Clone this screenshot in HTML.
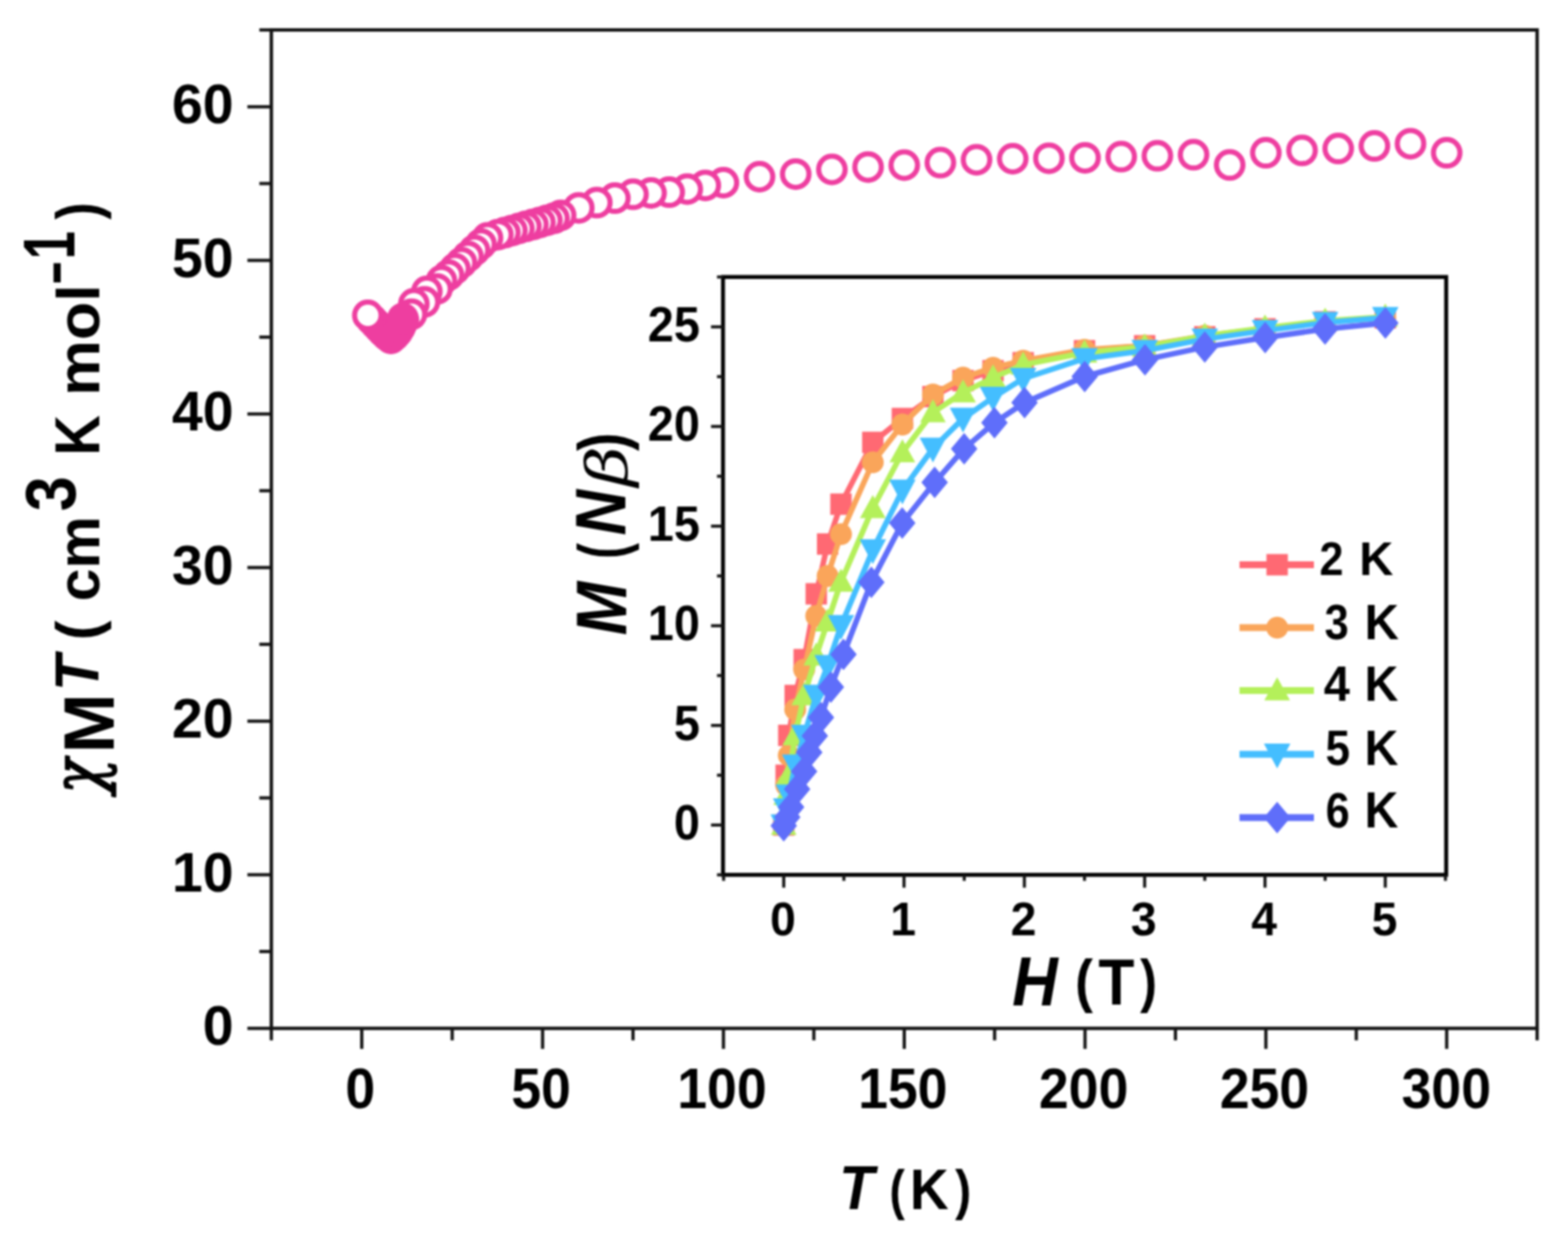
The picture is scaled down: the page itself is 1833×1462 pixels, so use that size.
<!DOCTYPE html>
<html><head><meta charset="utf-8"><title>chiMT plot</title>
<style>html,body{margin:0;padding:0;background:#fff;overflow:hidden}svg{display:block;filter:blur(0.9px)}</style>
</head><body>
<svg width="1833" height="1462" viewBox="0 0 1833 1462" fill="#000"><rect x="317.2" y="35.0" width="1479.7" height="1166.8" fill="none" stroke="#141414" stroke-width="4"/>
<line x1="289.2" y1="1201.8" x2="317.2" y2="1201.8" stroke="#141414" stroke-width="3.8"/>
<line x1="303.2" y1="1112.0" x2="317.2" y2="1112.0" stroke="#141414" stroke-width="3.8"/>
<line x1="289.2" y1="1022.3" x2="317.2" y2="1022.3" stroke="#141414" stroke-width="3.8"/>
<line x1="303.2" y1="932.5" x2="317.2" y2="932.5" stroke="#141414" stroke-width="3.8"/>
<line x1="289.2" y1="842.8" x2="317.2" y2="842.8" stroke="#141414" stroke-width="3.8"/>
<line x1="303.2" y1="753.0" x2="317.2" y2="753.0" stroke="#141414" stroke-width="3.8"/>
<line x1="289.2" y1="663.3" x2="317.2" y2="663.3" stroke="#141414" stroke-width="3.8"/>
<line x1="303.2" y1="573.5" x2="317.2" y2="573.5" stroke="#141414" stroke-width="3.8"/>
<line x1="289.2" y1="483.8" x2="317.2" y2="483.8" stroke="#141414" stroke-width="3.8"/>
<line x1="303.2" y1="394.0" x2="317.2" y2="394.0" stroke="#141414" stroke-width="3.8"/>
<line x1="289.2" y1="304.3" x2="317.2" y2="304.3" stroke="#141414" stroke-width="3.8"/>
<line x1="303.2" y1="214.5" x2="317.2" y2="214.5" stroke="#141414" stroke-width="3.8"/>
<line x1="289.2" y1="124.8" x2="317.2" y2="124.8" stroke="#141414" stroke-width="3.8"/>
<line x1="303.2" y1="35.0" x2="317.2" y2="35.0" stroke="#141414" stroke-width="3.8"/>
<line x1="317.2" y1="1201.8" x2="317.2" y2="1215.8" stroke="#141414" stroke-width="3.8"/>
<line x1="422.9" y1="1201.8" x2="422.9" y2="1225.8" stroke="#141414" stroke-width="3.8"/>
<line x1="528.6" y1="1201.8" x2="528.6" y2="1215.8" stroke="#141414" stroke-width="3.8"/>
<line x1="634.3" y1="1201.8" x2="634.3" y2="1225.8" stroke="#141414" stroke-width="3.8"/>
<line x1="740.0" y1="1201.8" x2="740.0" y2="1215.8" stroke="#141414" stroke-width="3.8"/>
<line x1="845.7" y1="1201.8" x2="845.7" y2="1225.8" stroke="#141414" stroke-width="3.8"/>
<line x1="951.4" y1="1201.8" x2="951.4" y2="1215.8" stroke="#141414" stroke-width="3.8"/>
<line x1="1057.1" y1="1201.8" x2="1057.1" y2="1225.8" stroke="#141414" stroke-width="3.8"/>
<line x1="1162.7" y1="1201.8" x2="1162.7" y2="1215.8" stroke="#141414" stroke-width="3.8"/>
<line x1="1268.4" y1="1201.8" x2="1268.4" y2="1225.8" stroke="#141414" stroke-width="3.8"/>
<line x1="1374.1" y1="1201.8" x2="1374.1" y2="1215.8" stroke="#141414" stroke-width="3.8"/>
<line x1="1479.8" y1="1201.8" x2="1479.8" y2="1225.8" stroke="#141414" stroke-width="3.8"/>
<line x1="1585.5" y1="1201.8" x2="1585.5" y2="1215.8" stroke="#141414" stroke-width="3.8"/>
<line x1="1691.2" y1="1201.8" x2="1691.2" y2="1225.8" stroke="#141414" stroke-width="3.8"/>
<line x1="1796.9" y1="1201.8" x2="1796.9" y2="1215.8" stroke="#141414" stroke-width="3.8"/>
<text transform="translate(273.06 1221.39) scale(1.0137 1)" font-family="&#39;Liberation Sans&#39;, Arial, sans-serif" font-size="63.94" font-weight="bold" text-anchor="end">0</text>
<text transform="translate(273.06 1041.89) scale(1.0137 1)" font-family="&#39;Liberation Sans&#39;, Arial, sans-serif" font-size="63.94" font-weight="bold" text-anchor="end">10</text>
<text transform="translate(273.06 862.39) scale(1.0137 1)" font-family="&#39;Liberation Sans&#39;, Arial, sans-serif" font-size="63.94" font-weight="bold" text-anchor="end">20</text>
<text transform="translate(273.06 682.89) scale(1.0137 1)" font-family="&#39;Liberation Sans&#39;, Arial, sans-serif" font-size="63.94" font-weight="bold" text-anchor="end">30</text>
<text transform="translate(273.06 503.39) scale(1.0137 1)" font-family="&#39;Liberation Sans&#39;, Arial, sans-serif" font-size="63.94" font-weight="bold" text-anchor="end">40</text>
<text transform="translate(273.06 323.89) scale(1.0137 1)" font-family="&#39;Liberation Sans&#39;, Arial, sans-serif" font-size="63.94" font-weight="bold" text-anchor="end">50</text>
<text transform="translate(273.06 144.39) scale(1.0137 1)" font-family="&#39;Liberation Sans&#39;, Arial, sans-serif" font-size="63.94" font-weight="bold" text-anchor="end">60</text>
<text transform="translate(421.22 1294.98) scale(0.9406 1)" font-family="&#39;Liberation Sans&#39;, Arial, sans-serif" font-size="66.60" font-weight="bold" text-anchor="middle">0</text>
<text transform="translate(632.61 1294.98) scale(0.9406 1)" font-family="&#39;Liberation Sans&#39;, Arial, sans-serif" font-size="66.60" font-weight="bold" text-anchor="middle">50</text>
<text transform="translate(843.99 1294.98) scale(0.9406 1)" font-family="&#39;Liberation Sans&#39;, Arial, sans-serif" font-size="66.60" font-weight="bold" text-anchor="middle">100</text>
<text transform="translate(1055.38 1294.98) scale(0.9406 1)" font-family="&#39;Liberation Sans&#39;, Arial, sans-serif" font-size="66.60" font-weight="bold" text-anchor="middle">150</text>
<text transform="translate(1266.76 1294.98) scale(0.9406 1)" font-family="&#39;Liberation Sans&#39;, Arial, sans-serif" font-size="66.60" font-weight="bold" text-anchor="middle">200</text>
<text transform="translate(1478.15 1294.98) scale(0.9406 1)" font-family="&#39;Liberation Sans&#39;, Arial, sans-serif" font-size="66.60" font-weight="bold" text-anchor="middle">250</text>
<text transform="translate(1690.73 1294.98) scale(0.9406 1)" font-family="&#39;Liberation Sans&#39;, Arial, sans-serif" font-size="66.60" font-weight="bold" text-anchor="middle">300</text>
<circle cx="1691.2" cy="178.6" r="15.5" fill="#fff" stroke="#EE3EA0" stroke-width="6"/>
<circle cx="1648.9" cy="167.9" r="15.5" fill="#fff" stroke="#EE3EA0" stroke-width="6"/>
<circle cx="1606.7" cy="170.6" r="15.5" fill="#fff" stroke="#EE3EA0" stroke-width="6"/>
<circle cx="1564.4" cy="173.6" r="15.5" fill="#fff" stroke="#EE3EA0" stroke-width="6"/>
<circle cx="1522.1" cy="175.8" r="15.5" fill="#fff" stroke="#EE3EA0" stroke-width="6"/>
<circle cx="1479.8" cy="178.6" r="15.5" fill="#fff" stroke="#EE3EA0" stroke-width="6"/>
<circle cx="1437.5" cy="192.8" r="15.5" fill="#fff" stroke="#EE3EA0" stroke-width="6"/>
<circle cx="1395.3" cy="180.8" r="15.5" fill="#fff" stroke="#EE3EA0" stroke-width="6"/>
<circle cx="1353.0" cy="182.1" r="15.5" fill="#fff" stroke="#EE3EA0" stroke-width="6"/>
<circle cx="1310.7" cy="183.1" r="15.5" fill="#fff" stroke="#EE3EA0" stroke-width="6"/>
<circle cx="1268.4" cy="184.4" r="15.5" fill="#fff" stroke="#EE3EA0" stroke-width="6"/>
<circle cx="1226.2" cy="184.9" r="15.5" fill="#fff" stroke="#EE3EA0" stroke-width="6"/>
<circle cx="1183.9" cy="185.5" r="15.5" fill="#fff" stroke="#EE3EA0" stroke-width="6"/>
<circle cx="1141.6" cy="186.7" r="15.5" fill="#fff" stroke="#EE3EA0" stroke-width="6"/>
<circle cx="1099.3" cy="190.1" r="15.5" fill="#fff" stroke="#EE3EA0" stroke-width="6"/>
<circle cx="1057.1" cy="193.0" r="15.5" fill="#fff" stroke="#EE3EA0" stroke-width="6"/>
<circle cx="1014.8" cy="195.2" r="15.5" fill="#fff" stroke="#EE3EA0" stroke-width="6"/>
<circle cx="972.5" cy="198.0" r="15.5" fill="#fff" stroke="#EE3EA0" stroke-width="6"/>
<circle cx="930.2" cy="203.4" r="15.5" fill="#fff" stroke="#EE3EA0" stroke-width="6"/>
<circle cx="887.9" cy="206.5" r="15.5" fill="#fff" stroke="#EE3EA0" stroke-width="6"/>
<circle cx="845.7" cy="213.5" r="15.5" fill="#fff" stroke="#EE3EA0" stroke-width="6"/>
<circle cx="824.5" cy="216.7" r="15.5" fill="#fff" stroke="#EE3EA0" stroke-width="6"/>
<circle cx="803.4" cy="221.0" r="15.5" fill="#fff" stroke="#EE3EA0" stroke-width="6"/>
<circle cx="782.3" cy="224.6" r="15.5" fill="#fff" stroke="#EE3EA0" stroke-width="6"/>
<circle cx="761.1" cy="225.5" r="15.5" fill="#fff" stroke="#EE3EA0" stroke-width="6"/>
<circle cx="740.0" cy="227.1" r="15.5" fill="#fff" stroke="#EE3EA0" stroke-width="6"/>
<circle cx="718.8" cy="231.6" r="15.5" fill="#fff" stroke="#EE3EA0" stroke-width="6"/>
<circle cx="697.7" cy="236.8" r="15.5" fill="#fff" stroke="#EE3EA0" stroke-width="6"/>
<circle cx="676.6" cy="242.9" r="15.5" fill="#fff" stroke="#EE3EA0" stroke-width="6"/>
<circle cx="655.4" cy="251.7" r="15.5" fill="#fff" stroke="#EE3EA0" stroke-width="6"/>
<circle cx="647.6" cy="255.1" r="15.5" fill="#fff" stroke="#EE3EA0" stroke-width="6"/>
<circle cx="639.4" cy="257.5" r="15.5" fill="#fff" stroke="#EE3EA0" stroke-width="6"/>
<circle cx="631.2" cy="259.9" r="15.5" fill="#fff" stroke="#EE3EA0" stroke-width="6"/>
<circle cx="623.0" cy="262.3" r="15.5" fill="#fff" stroke="#EE3EA0" stroke-width="6"/>
<circle cx="614.8" cy="264.6" r="15.5" fill="#fff" stroke="#EE3EA0" stroke-width="6"/>
<circle cx="606.6" cy="267.0" r="15.5" fill="#fff" stroke="#EE3EA0" stroke-width="6"/>
<circle cx="598.4" cy="269.4" r="15.5" fill="#fff" stroke="#EE3EA0" stroke-width="6"/>
<circle cx="590.2" cy="271.8" r="15.5" fill="#fff" stroke="#EE3EA0" stroke-width="6"/>
<circle cx="582.0" cy="274.2" r="15.5" fill="#fff" stroke="#EE3EA0" stroke-width="6"/>
<circle cx="569.9" cy="278.0" r="15.5" fill="#fff" stroke="#EE3EA0" stroke-width="6"/>
<circle cx="562.3" cy="285.2" r="15.5" fill="#fff" stroke="#EE3EA0" stroke-width="6"/>
<circle cx="554.7" cy="292.4" r="15.5" fill="#fff" stroke="#EE3EA0" stroke-width="6"/>
<circle cx="547.1" cy="299.7" r="15.5" fill="#fff" stroke="#EE3EA0" stroke-width="6"/>
<circle cx="539.5" cy="306.9" r="15.5" fill="#fff" stroke="#EE3EA0" stroke-width="6"/>
<circle cx="531.9" cy="314.1" r="15.5" fill="#fff" stroke="#EE3EA0" stroke-width="6"/>
<circle cx="524.3" cy="321.4" r="15.5" fill="#fff" stroke="#EE3EA0" stroke-width="6"/>
<circle cx="516.1" cy="328.0" r="15.5" fill="#fff" stroke="#EE3EA0" stroke-width="6"/>
<circle cx="510.8" cy="337.7" r="15.5" fill="#fff" stroke="#EE3EA0" stroke-width="6"/>
<circle cx="499.0" cy="340.5" r="15.5" fill="#fff" stroke="#EE3EA0" stroke-width="6"/>
<circle cx="496.2" cy="352.8" r="15.5" fill="#fff" stroke="#EE3EA0" stroke-width="6"/>
<circle cx="483.8" cy="355.0" r="15.5" fill="#fff" stroke="#EE3EA0" stroke-width="6"/>
<circle cx="481.0" cy="367.3" r="15.5" fill="#fff" stroke="#EE3EA0" stroke-width="6"/>
<circle cx="434.5" cy="373.3" r="18.5" fill="#EE3EA0"/>
<circle cx="439.0" cy="378.1" r="18.5" fill="#EE3EA0"/>
<circle cx="443.5" cy="382.9" r="18.5" fill="#EE3EA0"/>
<circle cx="448.0" cy="387.7" r="18.5" fill="#EE3EA0"/>
<circle cx="452.5" cy="392.0" r="18.5" fill="#EE3EA0"/>
<circle cx="457.0" cy="395.5" r="18.5" fill="#EE3EA0"/>
<circle cx="461.0" cy="392.0" r="18.5" fill="#EE3EA0"/>
<circle cx="464.5" cy="388.0" r="18.5" fill="#EE3EA0"/>
<circle cx="467.5" cy="383.0" r="18.5" fill="#EE3EA0"/>
<circle cx="470.0" cy="377.5" r="18.5" fill="#EE3EA0"/>
<circle cx="471.5" cy="373.5" r="18.5" fill="#EE3EA0"/>
<circle cx="471.0" cy="372.0" r="18.5" fill="#EE3EA0"/>
<circle cx="430.0" cy="368.5" r="15.5" fill="#fff" stroke="#EE3EA0" stroke-width="6"/>
<rect x="845.2" y="323.7" width="845.4" height="698.7" fill="#fff" stroke="#000" stroke-width="4.6"/>
<line x1="838.2" y1="1022.4" x2="845.2" y2="1022.4" stroke="#141414" stroke-width="3.6"/>
<line x1="831.2" y1="964.2" x2="845.2" y2="964.2" stroke="#141414" stroke-width="3.6"/>
<line x1="838.2" y1="906.0" x2="845.2" y2="906.0" stroke="#141414" stroke-width="3.6"/>
<line x1="831.2" y1="847.8" x2="845.2" y2="847.8" stroke="#141414" stroke-width="3.6"/>
<line x1="838.2" y1="789.5" x2="845.2" y2="789.5" stroke="#141414" stroke-width="3.6"/>
<line x1="831.2" y1="731.3" x2="845.2" y2="731.3" stroke="#141414" stroke-width="3.6"/>
<line x1="838.2" y1="673.1" x2="845.2" y2="673.1" stroke="#141414" stroke-width="3.6"/>
<line x1="831.2" y1="614.9" x2="845.2" y2="614.9" stroke="#141414" stroke-width="3.6"/>
<line x1="838.2" y1="556.6" x2="845.2" y2="556.6" stroke="#141414" stroke-width="3.6"/>
<line x1="831.2" y1="498.4" x2="845.2" y2="498.4" stroke="#141414" stroke-width="3.6"/>
<line x1="838.2" y1="440.2" x2="845.2" y2="440.2" stroke="#141414" stroke-width="3.6"/>
<line x1="831.2" y1="382.0" x2="845.2" y2="382.0" stroke="#141414" stroke-width="3.6"/>
<line x1="838.2" y1="323.7" x2="845.2" y2="323.7" stroke="#141414" stroke-width="3.6"/>
<line x1="845.9" y1="1022.4" x2="845.9" y2="1029.4" stroke="#141414" stroke-width="3.6"/>
<line x1="916.2" y1="1022.4" x2="916.2" y2="1037.4" stroke="#141414" stroke-width="3.6"/>
<line x1="986.5" y1="1022.4" x2="986.5" y2="1029.4" stroke="#141414" stroke-width="3.6"/>
<line x1="1056.8" y1="1022.4" x2="1056.8" y2="1037.4" stroke="#141414" stroke-width="3.6"/>
<line x1="1127.2" y1="1022.4" x2="1127.2" y2="1029.4" stroke="#141414" stroke-width="3.6"/>
<line x1="1197.5" y1="1022.4" x2="1197.5" y2="1037.4" stroke="#141414" stroke-width="3.6"/>
<line x1="1267.8" y1="1022.4" x2="1267.8" y2="1029.4" stroke="#141414" stroke-width="3.6"/>
<line x1="1338.1" y1="1022.4" x2="1338.1" y2="1037.4" stroke="#141414" stroke-width="3.6"/>
<line x1="1408.4" y1="1022.4" x2="1408.4" y2="1029.4" stroke="#141414" stroke-width="3.6"/>
<line x1="1478.8" y1="1022.4" x2="1478.8" y2="1037.4" stroke="#141414" stroke-width="3.6"/>
<line x1="1549.1" y1="1022.4" x2="1549.1" y2="1029.4" stroke="#141414" stroke-width="3.6"/>
<line x1="1619.4" y1="1022.4" x2="1619.4" y2="1037.4" stroke="#141414" stroke-width="3.6"/>
<line x1="1689.7" y1="1022.4" x2="1689.7" y2="1029.4" stroke="#141414" stroke-width="3.6"/>
<text transform="translate(818.24 980.97) scale(0.9410 1)" font-family="&#39;Liberation Sans&#39;, Arial, sans-serif" font-size="58.23" font-weight="bold" text-anchor="end">0</text>
<text transform="translate(818.24 864.52) scale(0.9410 1)" font-family="&#39;Liberation Sans&#39;, Arial, sans-serif" font-size="58.23" font-weight="bold" text-anchor="end">5</text>
<text transform="translate(818.24 748.07) scale(0.9410 1)" font-family="&#39;Liberation Sans&#39;, Arial, sans-serif" font-size="58.23" font-weight="bold" text-anchor="end">10</text>
<text transform="translate(818.24 631.62) scale(0.9410 1)" font-family="&#39;Liberation Sans&#39;, Arial, sans-serif" font-size="58.23" font-weight="bold" text-anchor="end">15</text>
<text transform="translate(818.24 515.17) scale(0.9410 1)" font-family="&#39;Liberation Sans&#39;, Arial, sans-serif" font-size="58.23" font-weight="bold" text-anchor="end">20</text>
<text transform="translate(818.24 398.72) scale(0.9410 1)" font-family="&#39;Liberation Sans&#39;, Arial, sans-serif" font-size="58.23" font-weight="bold" text-anchor="end">25</text>
<text transform="translate(915.23 1093.18) scale(0.9903 1)" font-family="&#39;Liberation Sans&#39;, Arial, sans-serif" font-size="54.61" font-weight="bold" text-anchor="middle">0</text>
<text transform="translate(1055.87 1093.18) scale(0.9903 1)" font-family="&#39;Liberation Sans&#39;, Arial, sans-serif" font-size="54.61" font-weight="bold" text-anchor="middle">1</text>
<text transform="translate(1196.51 1093.18) scale(0.9903 1)" font-family="&#39;Liberation Sans&#39;, Arial, sans-serif" font-size="54.61" font-weight="bold" text-anchor="middle">2</text>
<text transform="translate(1337.15 1093.18) scale(0.9903 1)" font-family="&#39;Liberation Sans&#39;, Arial, sans-serif" font-size="54.61" font-weight="bold" text-anchor="middle">3</text>
<text transform="translate(1477.79 1093.18) scale(0.9903 1)" font-family="&#39;Liberation Sans&#39;, Arial, sans-serif" font-size="54.61" font-weight="bold" text-anchor="middle">4</text>
<text transform="translate(1618.43 1093.18) scale(0.9903 1)" font-family="&#39;Liberation Sans&#39;, Arial, sans-serif" font-size="54.61" font-weight="bold" text-anchor="middle">5</text>
<polyline points="916.2,964.2 919.0,906.0 922.1,859.4 929.6,812.8 940.1,770.9 954.2,694.0 967.5,635.8 983.1,589.2 1020.3,517.0 1054.9,489.1 1090.6,463.5 1125.8,444.8 1160.9,433.2 1196.1,423.9 1267.8,409.9 1338.1,404.1 1408.4,393.6 1478.8,384.3 1549.1,376.1 1619.4,371.5" fill="none" stroke="#FF6973" stroke-width="6.5" stroke-linejoin="round"/>
<rect x="903.7" y="951.7" width="25.0" height="25.0" fill="#FF6973"/>
<rect x="906.5" y="893.5" width="25.0" height="25.0" fill="#FF6973"/>
<rect x="909.6" y="846.9" width="25.0" height="25.0" fill="#FF6973"/>
<rect x="917.1" y="800.3" width="25.0" height="25.0" fill="#FF6973"/>
<rect x="927.6" y="758.4" width="25.0" height="25.0" fill="#FF6973"/>
<rect x="941.7" y="681.5" width="25.0" height="25.0" fill="#FF6973"/>
<rect x="955.0" y="623.3" width="25.0" height="25.0" fill="#FF6973"/>
<rect x="970.6" y="576.7" width="25.0" height="25.0" fill="#FF6973"/>
<rect x="1007.8" y="504.5" width="25.0" height="25.0" fill="#FF6973"/>
<rect x="1042.4" y="476.6" width="25.0" height="25.0" fill="#FF6973"/>
<rect x="1078.1" y="451.0" width="25.0" height="25.0" fill="#FF6973"/>
<rect x="1113.3" y="432.3" width="25.0" height="25.0" fill="#FF6973"/>
<rect x="1148.4" y="420.7" width="25.0" height="25.0" fill="#FF6973"/>
<rect x="1183.6" y="411.4" width="25.0" height="25.0" fill="#FF6973"/>
<rect x="1255.3" y="397.4" width="25.0" height="25.0" fill="#FF6973"/>
<rect x="1325.6" y="391.6" width="25.0" height="25.0" fill="#FF6973"/>
<rect x="1395.9" y="381.1" width="25.0" height="25.0" fill="#FF6973"/>
<rect x="1466.3" y="371.8" width="25.0" height="25.0" fill="#FF6973"/>
<rect x="1536.6" y="363.6" width="25.0" height="25.0" fill="#FF6973"/>
<rect x="1606.9" y="359.0" width="25.0" height="25.0" fill="#FF6973"/>
<polyline points="916.2,964.2 919.0,917.6 922.1,882.7 929.6,829.1 940.1,782.5 954.2,719.7 967.5,673.1 983.1,624.2 1020.3,540.3 1054.9,496.1 1090.6,461.1 1125.8,441.3 1160.9,429.7 1196.1,421.5 1267.8,408.7 1338.1,404.1 1408.4,392.4 1478.8,384.3 1549.1,376.1 1619.4,371.5" fill="none" stroke="#FAA55A" stroke-width="6.5" stroke-linejoin="round"/>
<circle cx="916.2" cy="964.2" r="12.8" fill="#FAA55A"/>
<circle cx="919.0" cy="917.6" r="12.8" fill="#FAA55A"/>
<circle cx="922.1" cy="882.7" r="12.8" fill="#FAA55A"/>
<circle cx="929.6" cy="829.1" r="12.8" fill="#FAA55A"/>
<circle cx="940.1" cy="782.5" r="12.8" fill="#FAA55A"/>
<circle cx="954.2" cy="719.7" r="12.8" fill="#FAA55A"/>
<circle cx="967.5" cy="673.1" r="12.8" fill="#FAA55A"/>
<circle cx="983.1" cy="624.2" r="12.8" fill="#FAA55A"/>
<circle cx="1020.3" cy="540.3" r="12.8" fill="#FAA55A"/>
<circle cx="1054.9" cy="496.1" r="12.8" fill="#FAA55A"/>
<circle cx="1090.6" cy="461.1" r="12.8" fill="#FAA55A"/>
<circle cx="1125.8" cy="441.3" r="12.8" fill="#FAA55A"/>
<circle cx="1160.9" cy="429.7" r="12.8" fill="#FAA55A"/>
<circle cx="1196.1" cy="421.5" r="12.8" fill="#FAA55A"/>
<circle cx="1267.8" cy="408.7" r="12.8" fill="#FAA55A"/>
<circle cx="1338.1" cy="404.1" r="12.8" fill="#FAA55A"/>
<circle cx="1408.4" cy="392.4" r="12.8" fill="#FAA55A"/>
<circle cx="1478.8" cy="384.3" r="12.8" fill="#FAA55A"/>
<circle cx="1549.1" cy="376.1" r="12.8" fill="#FAA55A"/>
<circle cx="1619.4" cy="371.5" r="12.8" fill="#FAA55A"/>
<polyline points="916.2,964.2 919.0,929.3 922.1,906.0 929.6,859.4 940.1,812.8 954.2,766.2 967.5,726.6 983.1,680.1 1020.3,593.9 1054.9,528.7 1090.6,482.1 1125.8,458.8 1160.9,441.3 1196.1,426.2 1267.8,412.2 1338.1,405.2 1408.4,392.4 1478.8,383.1 1549.1,375.0 1619.4,370.3" fill="none" stroke="#B4F05A" stroke-width="6.5" stroke-linejoin="round"/>
<polygon points="916.2,948.7 931.2,975.7 901.2,975.7" fill="#B4F05A"/>
<polygon points="919.0,913.8 934.0,940.8 904.0,940.8" fill="#B4F05A"/>
<polygon points="922.1,890.5 937.1,917.5 907.1,917.5" fill="#B4F05A"/>
<polygon points="929.6,843.9 944.6,870.9 914.6,870.9" fill="#B4F05A"/>
<polygon points="940.1,797.3 955.1,824.3 925.1,824.3" fill="#B4F05A"/>
<polygon points="954.2,750.7 969.2,777.7 939.2,777.7" fill="#B4F05A"/>
<polygon points="967.5,711.1 982.5,738.1 952.5,738.1" fill="#B4F05A"/>
<polygon points="983.1,664.6 998.1,691.6 968.1,691.6" fill="#B4F05A"/>
<polygon points="1020.3,578.4 1035.3,605.4 1005.3,605.4" fill="#B4F05A"/>
<polygon points="1054.9,513.2 1069.9,540.2 1039.9,540.2" fill="#B4F05A"/>
<polygon points="1090.6,466.6 1105.6,493.6 1075.6,493.6" fill="#B4F05A"/>
<polygon points="1125.8,443.3 1140.8,470.3 1110.8,470.3" fill="#B4F05A"/>
<polygon points="1160.9,425.8 1175.9,452.8 1145.9,452.8" fill="#B4F05A"/>
<polygon points="1196.1,410.7 1211.1,437.7 1181.1,437.7" fill="#B4F05A"/>
<polygon points="1267.8,396.7 1282.8,423.7 1252.8,423.7" fill="#B4F05A"/>
<polygon points="1338.1,389.7 1353.1,416.7 1323.1,416.7" fill="#B4F05A"/>
<polygon points="1408.4,376.9 1423.4,403.9 1393.4,403.9" fill="#B4F05A"/>
<polygon points="1478.8,367.6 1493.8,394.6 1463.8,394.6" fill="#B4F05A"/>
<polygon points="1549.1,359.5 1564.1,386.5 1534.1,386.5" fill="#B4F05A"/>
<polygon points="1619.4,354.8 1634.4,381.8 1604.4,381.8" fill="#B4F05A"/>
<polyline points="916.2,964.2 919.0,945.6 922.1,929.3 929.6,894.3 940.1,859.4 954.2,812.8 967.5,777.9 983.1,731.3 1020.3,642.8 1054.9,572.9 1090.6,524.0 1125.8,489.1 1160.9,464.6 1196.1,442.5 1267.8,419.2 1338.1,409.7 1408.4,396.4 1478.8,386.4 1549.1,377.1 1619.4,371.2" fill="none" stroke="#44BEFF" stroke-width="6.5" stroke-linejoin="round"/>
<polygon points="916.2,980.7 931.7,951.7 900.7,951.7" fill="#44BEFF"/>
<polygon points="919.0,962.1 934.5,933.1 903.5,933.1" fill="#44BEFF"/>
<polygon points="922.1,945.8 937.6,916.8 906.6,916.8" fill="#44BEFF"/>
<polygon points="929.6,910.8 945.1,881.8 914.1,881.8" fill="#44BEFF"/>
<polygon points="940.1,875.9 955.6,846.9 924.6,846.9" fill="#44BEFF"/>
<polygon points="954.2,829.3 969.7,800.3 938.7,800.3" fill="#44BEFF"/>
<polygon points="967.5,794.4 983.0,765.4 952.0,765.4" fill="#44BEFF"/>
<polygon points="983.1,747.8 998.6,718.8 967.6,718.8" fill="#44BEFF"/>
<polygon points="1020.3,659.3 1035.8,630.3 1004.8,630.3" fill="#44BEFF"/>
<polygon points="1054.9,589.4 1070.4,560.4 1039.4,560.4" fill="#44BEFF"/>
<polygon points="1090.6,540.5 1106.1,511.5 1075.1,511.5" fill="#44BEFF"/>
<polygon points="1125.8,505.6 1141.3,476.6 1110.3,476.6" fill="#44BEFF"/>
<polygon points="1160.9,481.1 1176.4,452.1 1145.4,452.1" fill="#44BEFF"/>
<polygon points="1196.1,459.0 1211.6,430.0 1180.6,430.0" fill="#44BEFF"/>
<polygon points="1267.8,435.7 1283.3,406.7 1252.3,406.7" fill="#44BEFF"/>
<polygon points="1338.1,426.2 1353.6,397.2 1322.6,397.2" fill="#44BEFF"/>
<polygon points="1408.4,412.9 1423.9,383.9 1392.9,383.9" fill="#44BEFF"/>
<polygon points="1478.8,402.9 1494.3,373.9 1463.3,373.9" fill="#44BEFF"/>
<polygon points="1549.1,393.6 1564.6,364.6 1533.6,364.6" fill="#44BEFF"/>
<polygon points="1619.4,387.7 1634.9,358.7 1603.9,358.7" fill="#44BEFF"/>
<polyline points="916.2,965.0 920.3,955.0 924.8,943.3 931.8,922.3 940.0,901.4 946.0,879.3 952.5,860.0 959.7,838.6 971.3,803.0 986.0,764.8 1018.6,680.5 1054.7,611.2 1092.6,563.8 1127.1,524.4 1162.5,494.0 1197.7,470.5 1268.0,440.0 1338.5,420.4 1408.4,405.6 1479.0,394.5 1549.0,384.5 1619.5,377.5" fill="none" stroke="#5F6EFA" stroke-width="6.5" stroke-linejoin="round"/>
<polygon points="916.2,946.5 931.7,965.0 916.2,983.5 900.7,965.0" fill="#5F6EFA"/>
<polygon points="920.3,936.5 935.8,955.0 920.3,973.5 904.8,955.0" fill="#5F6EFA"/>
<polygon points="924.8,924.8 940.3,943.3 924.8,961.8 909.3,943.3" fill="#5F6EFA"/>
<polygon points="931.8,903.8 947.3,922.3 931.8,940.8 916.3,922.3" fill="#5F6EFA"/>
<polygon points="940.0,882.9 955.5,901.4 940.0,919.9 924.5,901.4" fill="#5F6EFA"/>
<polygon points="946.0,860.8 961.5,879.3 946.0,897.8 930.5,879.3" fill="#5F6EFA"/>
<polygon points="952.5,841.5 968.0,860.0 952.5,878.5 937.0,860.0" fill="#5F6EFA"/>
<polygon points="959.7,820.1 975.2,838.6 959.7,857.1 944.2,838.6" fill="#5F6EFA"/>
<polygon points="971.3,784.5 986.8,803.0 971.3,821.5 955.8,803.0" fill="#5F6EFA"/>
<polygon points="986.0,746.3 1001.5,764.8 986.0,783.3 970.5,764.8" fill="#5F6EFA"/>
<polygon points="1018.6,662.0 1034.1,680.5 1018.6,699.0 1003.1,680.5" fill="#5F6EFA"/>
<polygon points="1054.7,592.7 1070.2,611.2 1054.7,629.7 1039.2,611.2" fill="#5F6EFA"/>
<polygon points="1092.6,545.3 1108.1,563.8 1092.6,582.3 1077.1,563.8" fill="#5F6EFA"/>
<polygon points="1127.1,505.9 1142.6,524.4 1127.1,542.9 1111.6,524.4" fill="#5F6EFA"/>
<polygon points="1162.5,475.5 1178.0,494.0 1162.5,512.5 1147.0,494.0" fill="#5F6EFA"/>
<polygon points="1197.7,452.0 1213.2,470.5 1197.7,489.0 1182.2,470.5" fill="#5F6EFA"/>
<polygon points="1268.0,421.5 1283.5,440.0 1268.0,458.5 1252.5,440.0" fill="#5F6EFA"/>
<polygon points="1338.5,401.9 1354.0,420.4 1338.5,438.9 1323.0,420.4" fill="#5F6EFA"/>
<polygon points="1408.4,387.1 1423.9,405.6 1408.4,424.1 1392.9,405.6" fill="#5F6EFA"/>
<polygon points="1479.0,376.0 1494.5,394.5 1479.0,413.0 1463.5,394.5" fill="#5F6EFA"/>
<polygon points="1549.0,366.0 1564.5,384.5 1549.0,403.0 1533.5,384.5" fill="#5F6EFA"/>
<polygon points="1619.5,359.0 1635.0,377.5 1619.5,396.0 1604.0,377.5" fill="#5F6EFA"/>
<line x1="1449" y1="660" x2="1536" y2="660" stroke="#FF6973" stroke-width="8"/>
<rect x="1480.5" y="647.5" width="25.0" height="25.0" fill="#FF6973"/>
<text transform="translate(1542.56 672.40) scale(0.8994 1)" font-family="&#39;Liberation Sans&#39;, Arial, sans-serif" font-size="55.97" font-weight="bold">2</text>
<text transform="translate(1588.93 672.40) scale(0.9854 1)" font-family="&#39;Liberation Sans&#39;, Arial, sans-serif" font-size="55.97" font-weight="bold">K</text>
<line x1="1449" y1="733.5" x2="1536" y2="733.5" stroke="#FAA55A" stroke-width="8"/>
<circle cx="1493.0" cy="733.5" r="12.8" fill="#FAA55A"/>
<text transform="translate(1548.42 746.67) scale(0.8819 1)" font-family="&#39;Liberation Sans&#39;, Arial, sans-serif" font-size="57.38" font-weight="bold">3</text>
<text transform="translate(1595.28 746.67) scale(0.9674 1)" font-family="&#39;Liberation Sans&#39;, Arial, sans-serif" font-size="57.38" font-weight="bold">K</text>
<line x1="1449" y1="807" x2="1536" y2="807" stroke="#B4F05A" stroke-width="8"/>
<polygon points="1493.0,791.5 1508.0,818.5 1478.0,818.5" fill="#B4F05A"/>
<text transform="translate(1547.39 819.29) scale(0.9695 1)" font-family="&#39;Liberation Sans&#39;, Arial, sans-serif" font-size="56.60" font-weight="bold">4</text>
<text transform="translate(1595.36 819.29) scale(0.9637 1)" font-family="&#39;Liberation Sans&#39;, Arial, sans-serif" font-size="56.60" font-weight="bold">K</text>
<line x1="1449" y1="881.5" x2="1536" y2="881.5" stroke="#44BEFF" stroke-width="8"/>
<polygon points="1493.0,898.0 1508.5,869.0 1477.5,869.0" fill="#44BEFF"/>
<text transform="translate(1549.52 893.75) scale(0.9113 1)" font-family="&#39;Liberation Sans&#39;, Arial, sans-serif" font-size="56.60" font-weight="bold">5</text>
<text transform="translate(1595.36 893.75) scale(0.9637 1)" font-family="&#39;Liberation Sans&#39;, Arial, sans-serif" font-size="56.60" font-weight="bold">K</text>
<line x1="1449" y1="955.5" x2="1536" y2="955.5" stroke="#5F6EFA" stroke-width="8"/>
<polygon points="1493.0,937.0 1508.5,955.5 1493.0,974.0 1477.5,955.5" fill="#5F6EFA"/>
<text transform="translate(1549.67 967.06) scale(0.8637 1)" font-family="&#39;Liberation Sans&#39;, Arial, sans-serif" font-size="58.28" font-weight="bold">6</text>
<text transform="translate(1595.36 967.09) scale(0.9342 1)" font-family="&#39;Liberation Sans&#39;, Arial, sans-serif" font-size="58.39" font-weight="bold">K</text>
<text transform="translate(981.10 1413.39) scale(0.9237 1)" font-family="&#39;Liberation Sans&#39;, Arial, sans-serif" font-size="72.30" font-weight="bold" font-style="italic">T</text>
<text transform="translate(1039.75 1413.08) scale(0.8260 1)" font-family="&#39;Liberation Sans&#39;, Arial, sans-serif" font-size="65.33" font-weight="bold">(</text>
<text transform="translate(1063.79 1412.89) scale(0.9383 1)" font-family="&#39;Liberation Sans&#39;, Arial, sans-serif" font-size="66.79" font-weight="bold">K</text>
<text transform="translate(1116.45 1413.08) scale(0.8692 1)" font-family="&#39;Liberation Sans&#39;, Arial, sans-serif" font-size="65.33" font-weight="bold">)</text>
<text transform="translate(1183.37 1174.78) scale(0.9051 1)" font-family="&#39;Liberation Sans&#39;, Arial, sans-serif" font-size="81.57" font-weight="bold" font-style="italic">H</text>
<text transform="translate(1256.87 1170.36) scale(0.9220 1)" font-family="&#39;Liberation Sans&#39;, Arial, sans-serif" font-size="67.93" font-weight="bold">(</text>
<text transform="translate(1284.02 1173.82) scale(0.9132 1)" font-family="&#39;Liberation Sans&#39;, Arial, sans-serif" font-size="75.56" font-weight="bold">T</text>
<text transform="translate(1332.82 1170.36) scale(0.8792 1)" font-family="&#39;Liberation Sans&#39;, Arial, sans-serif" font-size="67.93" font-weight="bold">)</text>
<text transform="translate(731.94 742.52) rotate(-90) scale(0.8993 1)" font-family="&#39;Liberation Sans&#39;, Arial, sans-serif" font-size="83.87" font-weight="bold" font-style="italic">M</text>
<text transform="translate(731.37 653.12) rotate(-90) scale(0.7120 1)" font-family="&#39;Liberation Sans&#39;, Arial, sans-serif" font-size="77.15" font-weight="bold">(</text>
<text transform="translate(731.00 625.87) rotate(-90) scale(0.8786 1)" font-family="&#39;Liberation Sans&#39;, Arial, sans-serif" font-size="84.08" font-weight="bold" font-style="italic">N</text>
<text transform="translate(733.23 568.41) rotate(-90) scale(1.2268 1)" font-family="&#39;DejaVu Serif&#39;, &#39;Liberation Serif&#39;, serif" font-size="66.55" font-weight="normal" font-style="italic">β</text>
<text transform="translate(731.37 527.06) rotate(-90) scale(0.8299 1)" font-family="&#39;Liberation Sans&#39;, Arial, sans-serif" font-size="77.15" font-weight="bold">)</text>
<text transform="translate(117.71 927.27) rotate(-90) scale(0.8361 1)" font-family="&#39;DejaVu Serif&#39;, &#39;Liberation Serif&#39;, serif" font-size="80.10" font-weight="normal" font-style="italic" stroke="#000" stroke-width="1.91" stroke-linejoin="round">χ</text>
<text transform="translate(133.03 880.27) rotate(-90) scale(1.0162 1)" font-family="&#39;Liberation Sans&#39;, Arial, sans-serif" font-size="82.71" font-weight="bold">M</text>
<text transform="translate(114.61 807.61) rotate(-90) scale(0.9618 1)" font-family="&#39;Liberation Sans&#39;, Arial, sans-serif" font-size="71.43" font-weight="bold" font-style="italic">T</text>
<text transform="translate(114.60 748.23) rotate(-90) scale(0.9862 1)" font-family="&#39;Liberation Sans&#39;, Arial, sans-serif" font-size="70.52" font-weight="bold">(</text>
<text transform="translate(116.49 702.65) rotate(-90) scale(0.9670 1)" font-family="&#39;Liberation Sans&#39;, Arial, sans-serif" font-size="71.16" font-weight="bold">cm</text>
<text transform="translate(87.98 597.53) rotate(-90) scale(0.8876 1)" font-family="&#39;Liberation Sans&#39;, Arial, sans-serif" font-size="82.83" font-weight="bold">3</text>
<text transform="translate(116.49 532.20) rotate(-90) scale(0.8796 1)" font-family="&#39;Liberation Sans&#39;, Arial, sans-serif" font-size="74.31" font-weight="bold">K</text>
<text transform="translate(115.50 462.82) rotate(-90) scale(1.0484 1)" font-family="&#39;Liberation Sans&#39;, Arial, sans-serif" font-size="70.03" font-weight="bold">mol</text>
<text transform="translate(85.18 333.39) rotate(-90) scale(1.2745 1)" font-family="&#39;Liberation Sans&#39;, Arial, sans-serif" font-size="69.48" font-weight="bold">-</text>
<text transform="translate(87.02 303.08) rotate(-90) scale(0.7001 1)" font-family="&#39;Liberation Sans&#39;, Arial, sans-serif" font-size="84.73" font-weight="bold">1</text>
<text transform="translate(115.02 256.55) rotate(-90) scale(0.8546 1)" font-family="&#39;Liberation Sans&#39;, Arial, sans-serif" font-size="70.07" font-weight="bold">)</text></svg>
</body></html>
